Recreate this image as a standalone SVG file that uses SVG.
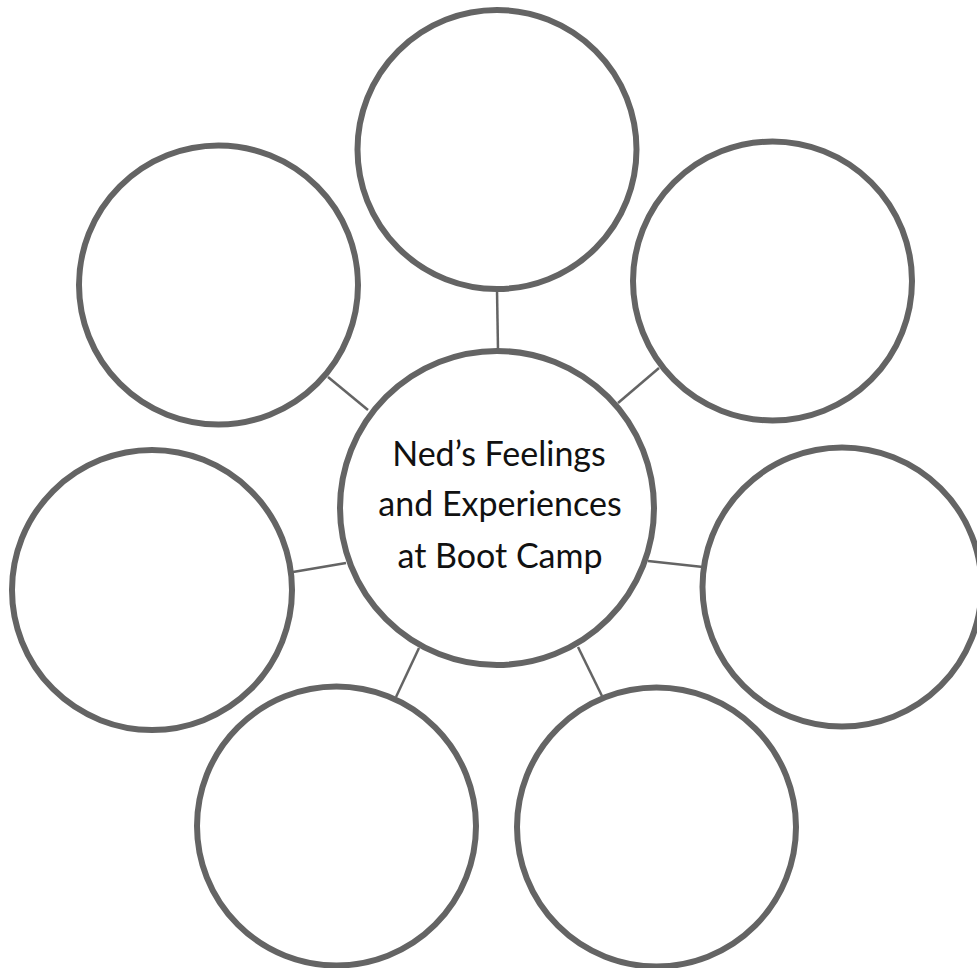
<svg xmlns="http://www.w3.org/2000/svg" width="977" height="968" viewBox="0 0 977 968">
<style>
.node{fill:#ffffff;stroke:#646464;stroke-width:6}
.conn{stroke:#646464;stroke-width:2.5;fill:none}
.label{font-family:"Lato","Noto Sans",sans-serif;font-size:34px;fill:#111111;text-anchor:middle}
</style>
<rect width="977" height="968" fill="#ffffff"/>
<g id="connectors">
<line class="conn" x1="497" y1="290" x2="498" y2="350"/>
<line class="conn" x1="328" y1="377" x2="368" y2="410"/>
<line class="conn" x1="618" y1="403" x2="659" y2="368"/>
<line class="conn" x1="293" y1="572" x2="346" y2="563"/>
<line class="conn" x1="648" y1="561" x2="703" y2="567"/>
<line class="conn" x1="396" y1="697" x2="419" y2="648"/>
<line class="conn" x1="578" y1="647" x2="602" y2="696"/>
</g>
<g id="node-top"><circle class="node" cx="497" cy="149.5" r="139.5"/></g>
<g id="node-upper-left"><circle class="node" cx="218.5" cy="285" r="139.5"/></g>
<g id="node-upper-right"><circle class="node" cx="772.5" cy="281" r="139.5"/></g>
<g id="node-left"><circle class="node" cx="152" cy="590" r="140"/></g>
<g id="node-right"><circle class="node" cx="842" cy="587" r="139.5"/></g>
<g id="node-bottom-left"><circle class="node" cx="336.5" cy="826" r="139.5"/></g>
<g id="node-bottom-right"><circle class="node" cx="656.5" cy="827" r="139.5"/></g>
<g id="node-center">
<circle class="node" cx="497" cy="508" r="157"/>
<text class="label" x="499" y="466">Ned’s Feelings</text>
<text class="label" x="500" y="516">and Experiences</text>
<text class="label" x="500" y="568">at Boot Camp</text>
</g>
</svg>
